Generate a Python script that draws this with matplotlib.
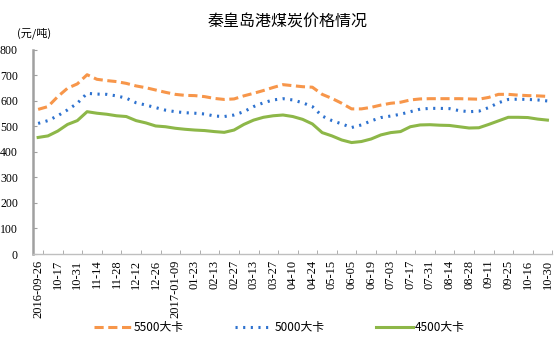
import matplotlib
matplotlib.use("Agg")
import matplotlib.pyplot as plt
import numpy as np

plt.rcParams['font.family'] = ['Noto Sans CJK SC', 'DejaVu Sans']

# weekly prices (yuan / ton), labels every other week
tick_labels = ['2016-09-26', '10-17', '10-31', '11-14', '11-28', '12-12', '12-26',
               '2017-01-09', '01-23', '02-13', '02-27', '03-13', '03-27', '04-10',
               '04-24', '05-15', '06-05', '06-19', '07-03', '07-17', '07-31',
               '08-14', '08-28', '09-11', '09-25', '10-16', '10-30']

kcal5500 = [567, 578, 617, 650, 667, 703, 685, 680, 676, 669, 659, 652, 643, 634,
            626, 622, 621, 617, 610, 606, 608, 620, 630, 641, 653, 664, 660, 656,
            654, 626, 610, 591, 569, 569, 575, 584, 591, 595, 604, 608, 609, 609,
            609, 609, 608, 607, 614, 626, 626, 623, 621, 620, 618]
kcal5000 = [512, 523, 542, 565, 591, 630, 627, 626, 620, 611, 593, 584, 574, 564,
            558, 554, 552, 549, 541, 539, 545, 558, 578, 593, 604, 609, 604, 593,
            578, 541, 523, 510, 496, 506, 522, 535, 541, 548, 558, 568, 571, 571,
            570, 562, 558, 560, 574, 593, 606, 607, 606, 604, 600]
kcal4500 = [457, 463, 482, 508, 523, 558, 552, 548, 542, 539, 523, 514, 502, 499,
            493, 489, 486, 484, 480, 477, 486, 508, 525, 536, 542, 545, 539, 528,
            510, 476, 463, 447, 437, 441, 451, 467, 476, 480, 499, 506, 507, 505,
            504, 499, 494, 495, 508, 522, 536, 536, 535, 529, 525]

x = np.arange(len(kcal5500))

fig = plt.figure(figsize=(5.54, 3.47), dpi=100)
ax = fig.add_axes([0.06, 0.268, 0.937, 0.588])

ax.plot(x, kcal5500, color='#F7964A', lw=2.2, ls=(0, (3, 1.5)), label='5500大卡')
ax.plot(x, kcal5000, color='#2E72CF', lw=2.2, ls=(0, (0.7, 1.8)), label='5000大卡',
        dash_capstyle='butt')
ax.plot(x, kcal4500, color='#8DB748', lw=2.2, label='4500大卡')

ax.set_xlim(-0.5, len(x) - 0.5)
ax.set_ylim(0, 800)
ax.set_xticks(x[::2])
ax.set_xticklabels(tick_labels, rotation=90, family='Liberation Serif', fontsize=9)
ax.set_yticks(np.arange(0, 801, 100))
ax.set_yticklabels([str(v) for v in range(0, 801, 100)], family='Liberation Serif',
                   fontsize=8.5)
ax.tick_params(axis='x', length=0, pad=4)
ax.tick_params(axis='y', direction='in', length=3, color='#A0A0A0', pad=11)
ax.set_xticks(np.arange(0.5, len(x), 2), minor=True)
ax.tick_params(axis='x', which='minor', direction='in', length=3, color='#A0A0A0')

for side in ['top', 'right']:
    ax.spines[side].set_visible(False)
ax.spines['left'].set_color('#A0A0A0')
ax.spines['left'].set_linewidth(1.8)
ax.spines['bottom'].set_color('#BFBFBF')
ax.spines['bottom'].set_linewidth(1.0)

fig.text(0.52, 0.935, '秦皇岛港煤炭价格情况', ha='center', va='center', fontsize=11.5)
fig.text(0.03, 0.905, '(元/吨)', ha='left', va='center', fontsize=8)

fig.legend(loc='center', bbox_to_anchor=(0.505, 0.055), ncol=3, frameon=False,
           fontsize=8.5, handlelength=3.1, handletextpad=0.2, columnspacing=4.4)

fig.savefig('out.png', dpi=100)
